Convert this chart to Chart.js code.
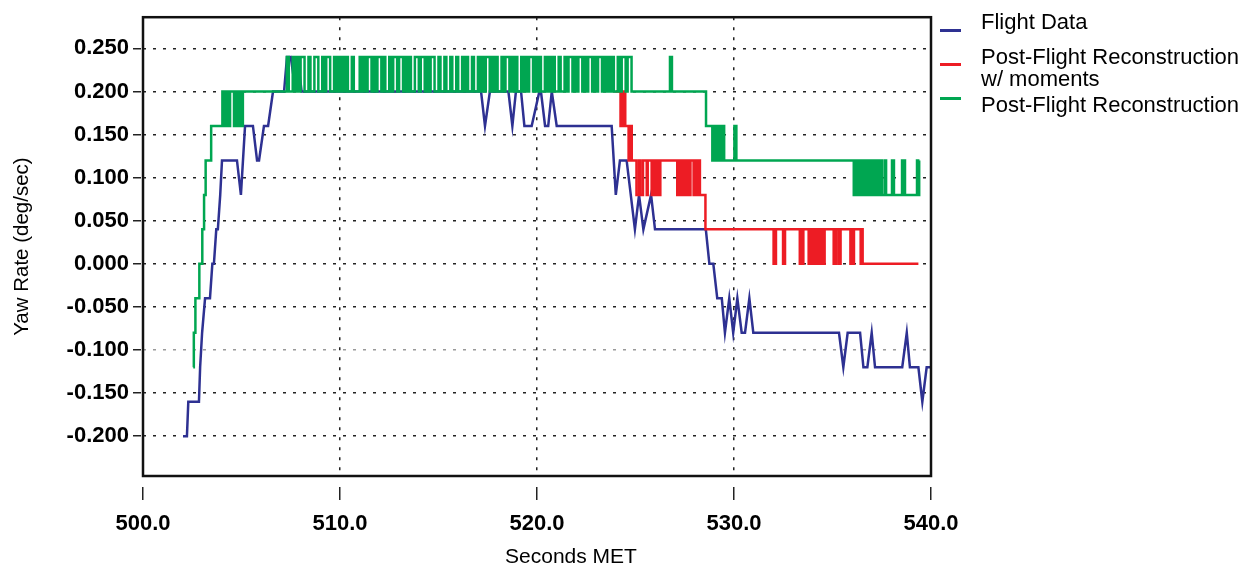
<!DOCTYPE html>
<html>
<head>
<meta charset="utf-8">
<script src="https://cdn.jsdelivr.net/npm/chart.js@4.4.1/dist/chart.umd.min.js"></script>
<style>
  body { margin: 0; background: #fff; font-family: "Liberation Sans", Arial, sans-serif; }
  #wrap { position: relative; width: 1243px; height: 566px; }
  #chart { position: absolute; left: 0; top: 0; }
  .key { position: absolute; left: 940px; width: 21px; height: 3px; }
  .lbl { position: absolute; left: 981px; font-size: 22px; line-height: 20px; color: #000; white-space: nowrap; }
  #xtitle { position: absolute; left: 571px; top: 545px; transform: translateX(-50%); font-size: 21px; line-height: 21px; color: #000; white-space: nowrap; }
</style>
</head>
<body>
<div id="wrap">
  <canvas id="chart" width="1243" height="566"></canvas>
  <div class="key" style="top:29px;background:#2e3192"></div>
  <div class="lbl" style="top:12px">Flight Data</div>
  <div class="key" style="top:63px;background:#ed1c24"></div>
  <div class="lbl" style="top:47px">Post-Flight Reconstruction</div>
  <div class="lbl" style="top:69px">w/ moments</div>
  <div class="key" style="top:97px;background:#00a651"></div>
  <div class="lbl" style="top:95px">Post-Flight Reconstruction</div>
  <div id="xtitle">Seconds MET</div>
</div>
<script>
// axis ticks
const xTicks = [500, 510, 520, 530, 540];
const yTicks = [-0.2, -0.15, -0.1, -0.05, 0, 0.05, 0.1, 0.15, 0.2, 0.25];

// Flight Data [seconds MET, yaw rate]
const flightData = [
  [502.03, -0.2], [502.23, -0.2], [502.3, -0.16], [502.84, -0.16], [502.9, -0.12], [503.0, -0.08],
  [503.15, -0.04], [503.4, -0.04], [503.52, 0.0], [503.6, 0.0], [503.72, 0.04], [503.8, 0.04],
  [503.92, 0.08], [504.01, 0.12], [504.77, 0.12], [504.97, 0.08], [505.18, 0.16], [505.58, 0.16],
  [505.79, 0.12], [505.89, 0.12], [506.14, 0.16], [506.35, 0.16], [506.6, 0.2], [507.16, 0.2],
  [507.31, 0.24], [507.5, 0.24], [507.75, 0.2], [507.85, 0.24], [508.05, 0.2],
  [517.16, 0.2], [517.36, 0.16], [517.61, 0.2], [518.55, 0.2], [518.75, 0.16], [518.93, 0.2],
  [519.19, 0.2], [519.36, 0.16], [519.73, 0.16], [520.12, 0.2], [520.2, 0.2], [520.41, 0.16],
  [520.57, 0.16], [520.75, 0.2], [521.0, 0.16], [523.79, 0.16], [524.0, 0.08], [524.21, 0.12],
  [524.55, 0.12], [524.97, 0.04], [525.18, 0.08], [525.4, 0.04], [525.79, 0.08], [525.99, 0.04],
  [528.57, 0.04], [528.75, 0.0], [528.95, 0.0], [529.15, -0.04], [529.38, -0.04], [529.54, -0.08],
  [529.76, -0.04], [529.96, -0.08], [530.17, -0.04], [530.39, -0.08], [530.56, -0.08], [530.78, -0.04],
  [530.98, -0.08], [535.33, -0.08], [535.55, -0.12], [535.77, -0.08], [536.4, -0.08], [536.57, -0.12],
  [536.77, -0.12], [536.99, -0.08], [537.16, -0.12], [538.54, -0.12], [538.77, -0.08], [538.93, -0.12],
  [539.36, -0.12], [539.56, -0.16], [539.78, -0.12], [540.0, -0.12]
];

// Post-Flight Reconstruction w/ moments (follows the green trace until ~524 s)
const recMoments = [
  [524.0, 0.2], [524.21, 0.2], [524.24, 0.16], [524.28, 0.2], [524.32, 0.16], [524.36, 0.2],
  [524.4, 0.16], [524.44, 0.2], [524.48, 0.16], [524.62, 0.16], [524.65, 0.12], [524.69, 0.16],
  [524.73, 0.12], [524.77, 0.16], [524.81, 0.12],
  [525.03, 0.12], [525.05, 0.08], [525.16, 0.08], [525.18, 0.12], [525.23, 0.12], [525.25, 0.08],
  [525.36, 0.08], [525.38, 0.12], [525.55, 0.12], [525.57, 0.08], [525.6, 0.08], [525.62, 0.12],
  [525.8, 0.12], [525.82, 0.08], [525.85, 0.08], [525.87, 0.12], [525.96, 0.12], [525.98, 0.08],
  [526.01, 0.08], [526.03, 0.12], [526.08, 0.12], [526.1, 0.08], [526.13, 0.08], [526.15, 0.12],
  [526.19, 0.12], [526.21, 0.08], [526.24, 0.08], [526.26, 0.12],
  [527.09, 0.12], [527.12, 0.08], [527.18, 0.12], [527.23, 0.08], [527.29, 0.12], [527.34, 0.08],
  [527.4, 0.12], [527.45, 0.08], [527.51, 0.12], [527.56, 0.08], [527.62, 0.12], [527.67, 0.08],
  [527.73, 0.12], [527.77, 0.08], [527.79, 0.12],
  [527.93, 0.12], [527.95, 0.08], [528.02, 0.08], [528.04, 0.12], [528.1, 0.12], [528.12, 0.08],
  [528.18, 0.08], [528.2, 0.12], [528.25, 0.12], [528.27, 0.08], [528.52, 0.08], [528.55, 0.04],
  [531.99, 0.04], [532.01, 0], [532.11, 0], [532.13, 0.04], [532.47, 0.04], [532.49, 0],
  [532.57, 0], [532.59, 0.04],
  [533.32, 0.04], [533.34, 0], [533.39, 0], [533.41, 0.04], [533.45, 0.04], [533.47, 0],
  [533.5, 0], [533.52, 0.04],
  [533.77, 0.04], [533.79, 0], [533.84, 0], [533.86, 0.04], [533.9, 0.04], [533.92, 0], [533.94, 0.04],
  [534.03, 0.04], [534.05, 0], [534.09, 0], [534.11, 0.04], [534.15, 0.04], [534.17, 0],
  [534.2, 0.04], [534.24, 0], [534.28, 0.04], [534.32, 0], [534.34, 0.04], [534.4, 0.04],
  [534.42, 0], [534.45, 0], [534.47, 0.04], [534.52, 0.04], [534.54, 0], [534.58, 0], [534.6, 0.04],
  [535.04, 0.04], [535.06, 0], [535.16, 0], [535.18, 0.04], [535.29, 0.04], [535.31, 0],
  [535.39, 0], [535.41, 0.04],
  [535.89, 0.04], [535.91, 0], [535.96, 0], [535.98, 0.04], [536.04, 0.04], [536.06, 0], [536.09, 0.04],
  [536.41, 0.04], [536.43, 0], [536.47, 0], [536.49, 0.04], [536.51, 0.04], [536.53, 0], [539.36, 0]
];

// Post-Flight Reconstruction: start of trace
const recStart = [
  [502.55, -0.12], [502.58, -0.08], [502.66, -0.04], [502.84, -0.04], [502.86, 0.0], [502.98, 0.0],
  [503.01, 0.04], [503.1, 0.08], [503.18, 0.12], [503.42, 0.12], [503.46, 0.16], [504.0, 0.16],
  [504.03, 0.2], [504.08, 0.16], [504.13, 0.2], [504.18, 0.16], [504.23, 0.2], [504.28, 0.16],
  [504.33, 0.2], [504.38, 0.16], [504.42, 0.2], [504.58, 0.2], [504.62, 0.16], [504.67, 0.2],
  [504.72, 0.16], [504.77, 0.2], [504.82, 0.16], [504.87, 0.2], [504.92, 0.16], [504.97, 0.2],
  [505.02, 0.16], [505.07, 0.2], [507.12, 0.2]
];

// Post-Flight Reconstruction: chattering section, one sample every 0.1 s from 507.3 s
const recDenseStart = 507.3;
const recDenseStep = 0.1;
const recDense = [
  0.24, 0.2, 0.2, 0.24, 0.2, 0.24, 0.2, 0.24, 0.24, 0.2,
  0.2, 0.24, 0.2, 0.2, 0.24, 0.24, 0.2, 0.2, 0.24, 0.2,
  0.24, 0.24, 0.2, 0.2, 0.24, 0.2, 0.24, 0.2, 0.24, 0.2,
  0.24, 0.2, 0.2, 0.24, 0.2, 0.2, 0.2, 0.24, 0.2, 0.24,
  0.2, 0.24, 0.24, 0.2, 0.24, 0.2, 0.24, 0.24, 0.2, 0.24,
  0.2, 0.2, 0.24, 0.2, 0.24, 0.24, 0.2, 0.24, 0.24, 0.2,
  0.24, 0.2, 0.24, 0.2, 0.2, 0.24, 0.24, 0.2, 0.24, 0.24,
  0.2, 0.24, 0.2, 0.24, 0.24, 0.2, 0.2, 0.24, 0.2, 0.2,
  0.24, 0.2, 0.2, 0.24, 0.2, 0.2, 0.24, 0.2, 0.2, 0.24,
  0.2, 0.24, 0.2, 0.2, 0.24, 0.2, 0.2, 0.24, 0.2, 0.24,
  0.2, 0.24, 0.24, 0.2, 0.24, 0.2, 0.24, 0.2, 0.2, 0.24,
  0.2, 0.24, 0.24, 0.2, 0.24, 0.2, 0.24, 0.2, 0.2, 0.24,
  0.2, 0.24, 0.2, 0.24, 0.24, 0.2, 0.24, 0.2, 0.24, 0.2,
  0.2, 0.24, 0.2, 0.24, 0.2, 0.24, 0.2, 0.2, 0.24, 0.2,
  0.2, 0.24, 0.2, 0.24, 0.24, 0.2, 0.24, 0.2, 0.24, 0.24,
  0.2, 0.24, 0.2, 0.24, 0.24, 0.2, 0.24, 0.2, 0.24, 0.24,
  0.2, 0.24, 0.2, 0.24, 0.2, 0.24, 0.2, 0.2, 0.24, 0.2,
  0.24, 0.24, 0.2, 0.24, 0.24, 0.2, 0.2
];

// Post-Flight Reconstruction: after the chattering section
const recEnd = [
  [526.72, 0.2], [526.75, 0.24], [526.82, 0.24], [526.85, 0.2], [528.44, 0.2], [528.58, 0.16],
  [528.87, 0.16], [528.9, 0.12], [528.95, 0.12], [528.97, 0.16], [529.02, 0.12], [529.06, 0.16],
  [529.1, 0.12], [529.16, 0.12], [529.18, 0.16], [529.22, 0.12], [529.3, 0.12], [529.32, 0.16],
  [529.36, 0.12], [529.44, 0.12], [529.46, 0.16], [529.5, 0.12],
  [530.0, 0.12], [530.02, 0.16], [530.1, 0.16], [530.12, 0.12],
  [536.06, 0.12], [536.08, 0.08], [536.12, 0.12], [536.16, 0.08], [536.2, 0.12], [536.22, 0.08],
  [536.3, 0.08], [536.32, 0.12], [536.36, 0.08], [536.4, 0.12], [536.44, 0.08], [536.48, 0.12],
  [536.52, 0.08], [536.56, 0.12], [536.6, 0.08], [536.66, 0.08], [536.68, 0.12], [536.72, 0.08],
  [536.76, 0.12], [536.8, 0.08], [536.84, 0.12], [536.88, 0.08], [536.92, 0.12], [536.96, 0.08],
  [537.0, 0.12], [537.04, 0.08], [537.08, 0.12], [537.12, 0.08], [537.16, 0.12], [537.2, 0.08],
  [537.24, 0.12], [537.28, 0.08], [537.32, 0.12], [537.36, 0.08], [537.4, 0.12], [537.44, 0.08],
  [537.48, 0.12], [537.5, 0.08],
  [537.62, 0.08], [537.64, 0.12], [537.7, 0.12], [537.72, 0.08], [538.0, 0.08], [538.02, 0.12],
  [538.1, 0.12], [538.12, 0.08], [538.51, 0.08], [538.53, 0.12], [538.58, 0.12], [538.6, 0.08],
  [538.64, 0.08], [538.66, 0.12], [538.68, 0.08], [539.27, 0.08], [539.29, 0.12], [539.33, 0.12],
  [539.35, 0.08], [539.38, 0.08], [539.4, 0.12]
];

const toXY = arr => arr.map(p => ({ x: p[0], y: p[1] }));
const denseXY = recDense.map((v, i) => ({ x: recDenseStart + i * recDenseStep, y: v }));
const recXY = toXY(recStart).concat(denseXY, toXY(recEnd));

// box round the plot area
const frame = {
  id: 'frame',
  afterDatasetsDraw(chart) {
    const { ctx, chartArea: a } = chart;
    ctx.save();
    ctx.strokeStyle = '#111';
    ctx.lineWidth = 2.5;
    ctx.strokeRect(a.left, a.top, a.right - a.left, a.bottom - a.top);
    ctx.restore();
  }
};

const tickFont = { family: 'Liberation Sans', size: 22, weight: 'bold' };

new Chart(document.getElementById('chart'), {
  type: 'line',
  data: {
    datasets: [
      { label: 'Flight Data', data: toXY(flightData), borderColor: '#2e3192', order: 2 },
      // reconstructions hold each sample, so draw them as steps
      { label: 'Post-Flight Reconstruction w/ moments', data: toXY(recMoments), borderColor: '#ed1c24', stepped: true, order: 1 },
      { label: 'Post-Flight Reconstruction', data: recXY, borderColor: '#00a651', stepped: true, order: 0 }
    ]
  },
  options: {
    responsive: false,
    animation: false,
    events: [],
    layout: { padding: { left: 0, right: 312, top: 16, bottom: 0 } },
    elements: {
      point: { radius: 0 },
      line: { borderWidth: 2.5, tension: 0, borderJoinStyle: 'miter' }
    },
    plugins: {
      legend: { display: false },
      tooltip: { enabled: false }
    },
    scales: {
      x: {
        type: 'linear',
        min: 500,
        max: 540,
        afterFit: s => { s.height = 90; },
        afterBuildTicks: s => { s.ticks = xTicks.map(v => ({ value: v })); },
        ticks: {
          font: tickFont, color: '#000', padding: 11, maxRotation: 0, autoSkip: false,
          callback: v => v.toFixed(1)
        },
        grid: {
          color: '#222', lineWidth: 1.5,
          tickLength: 24, tickColor: '#222', tickWidth: 1.5,
          tickBorderDash: [13, 11], tickBorderDashOffset: 13
        },
        border: { display: false, dash: [3, 7] }
      },
      y: {
        min: -0.2462,
        max: 0.2862,
        afterFit: s => { s.width = 143; },
        afterBuildTicks: s => { s.ticks = yTicks.map(v => ({ value: v })); },
        ticks: {
          font: tickFont, color: '#000', padding: 4,
          callback: v => v.toFixed(3)
        },
        grid: {
          color: c => (c.tick && Math.abs(c.tick.value + 0.1) < 1e-9) ? '#9a9a9a' : '#222',
          lineWidth: 1.5,
          tickLength: 10, tickColor: '#222', tickWidth: 1.5,
          tickBorderDash: [8, 12]
        },
        border: { display: false, dash: [3, 7] },
        title: {
          display: true,
          text: 'Yaw Rate (deg/sec)',
          color: '#000',
          font: { family: 'Liberation Sans', size: 20.5 },
          padding: { top: 10 }
        }
      }
    }
  },
  plugins: [frame]
});
</script>
</body>
</html>
